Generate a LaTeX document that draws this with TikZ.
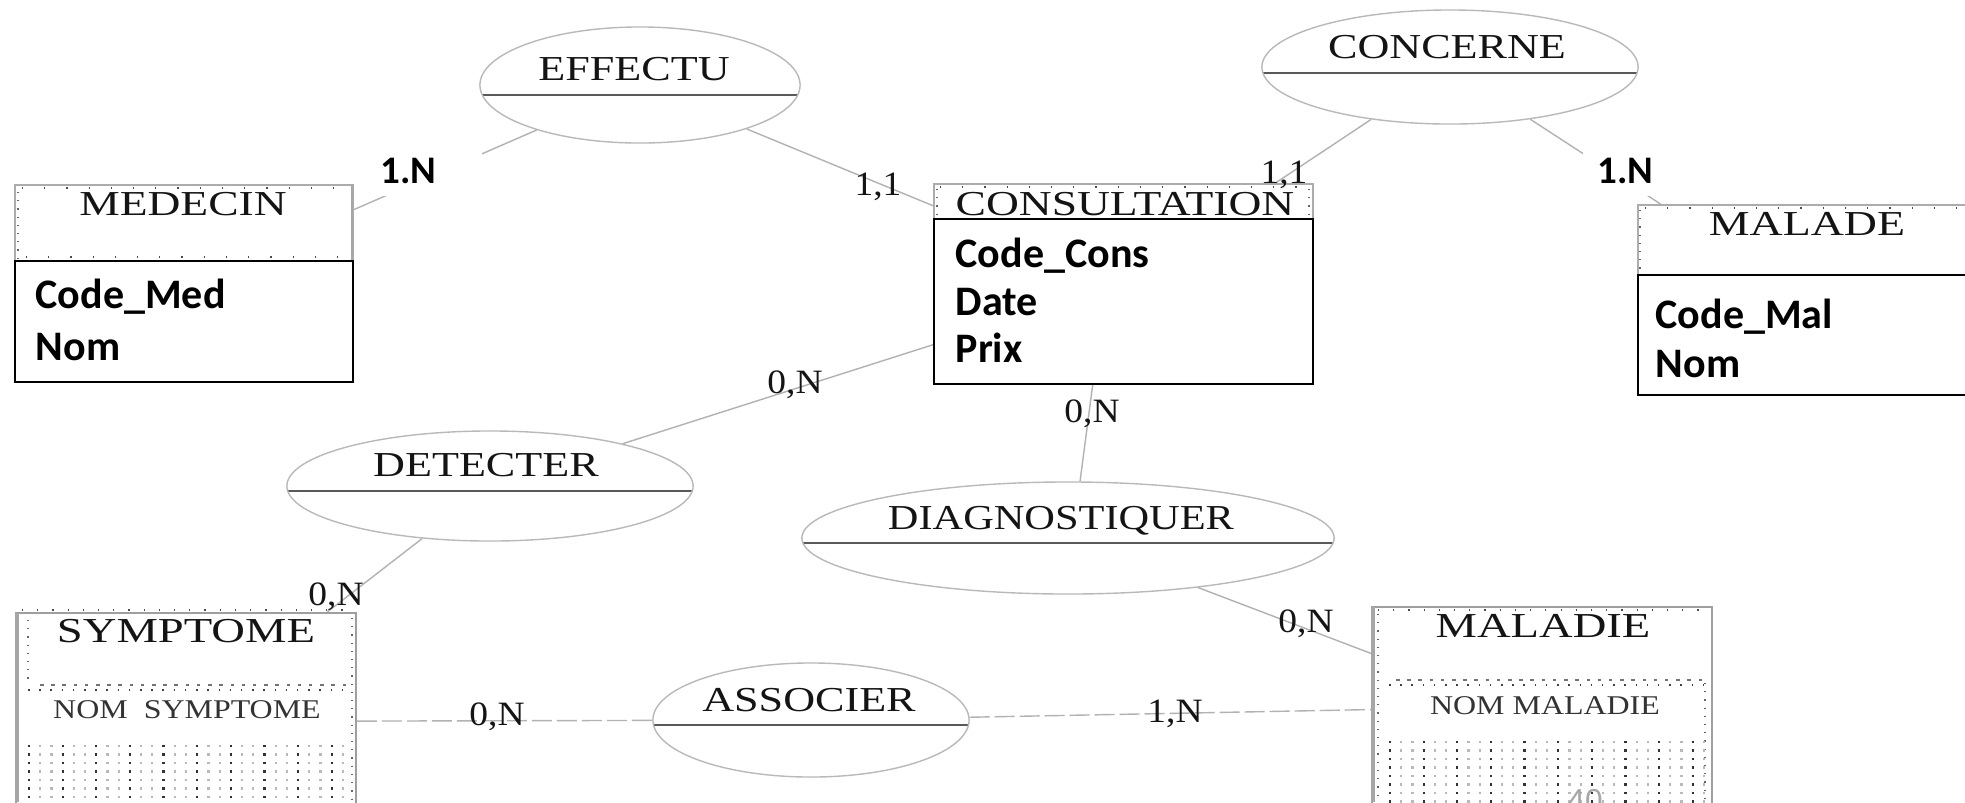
\documentclass[tikz,border=0pt]{standalone}
\usepackage{fontspec}
\usepackage{graphicx}
\setmainfont{Liberation Serif}
\newfontfamily\attrfont{Carlito}
\newfontfamily\pagefont{Liberation Sans}
\usetikzlibrary{shapes.geometric}
\newcommand{\stretchx}[2]{\scalebox{#1}[1]{#2}}

\tikzset{
  ename/.style={font=\fontsize{9.96}{12}\selectfont, text=black!92, inner sep=0pt, anchor=base},
  card/.style={font=\fontsize{9.7}{11}\selectfont, text=black!92, inner sep=0pt, anchor=base},
  attrname/.style={font=\fontsize{7.7}{9}\selectfont, text=black!80, inner sep=0pt, anchor=base},
  attr/.style={font=\attrfont\bfseries\fontsize{11.95}{14}\selectfont, inner sep=0pt, anchor=base west},
  bigcard/.style={font=\attrfont\bfseries\fontsize{11.1}{13}\selectfont, fill=white, anchor=west,
    inner ysep=0pt, minimum height=0.5cm, align=left},
  entbox/.style={rectangle, draw=none, inner sep=0pt},
  relation/.style={ellipse, draw=gray!55, line width=0.4pt, inner sep=0pt,
    path picture={\draw[draw=black!65, line width=0.8pt]
      ([yshift=-#1]path picture bounding box.west) -- ([yshift=-#1]path picture bounding box.east);}},
  link/.style={draw=gray!60, line width=0.4pt},
  alink/.style={link, dash pattern=on 0.2cm off 0.05cm},
  frame/.style={draw=gray!65, line width=0.45pt},
  ticks/.style={draw=black!70, line width=0.7pt, dash pattern=on 0.012cm off 0.21cm},
  fticks/.style={draw=black!70, line width=0.7pt, dash pattern=on 0.012cm off 0.14cm},
  vticks/.style={draw=black!60, line width=0.7pt, dash pattern=on 0.012cm off 0.07cm},
  dashrow/.style={draw=black!55, line width=0.6pt, dash pattern=on 0.035cm off 0.077cm},
  dotrow/.style={draw=black!75, line width=0.7pt, dash pattern=on 0.015cm off 0.097cm},
  body/.style={draw=black, line width=0.6pt},
  thickframe/.style={draw=gray!75, line width=0.8pt},
  gridrow/.style={draw=gray!55, line width=0.75pt, dash pattern=on 0.022cm off 0.09cm},
  gridrowb/.style={draw=black!80, line width=0.75pt, dash pattern=on 0.022cm off 0.314cm},
}

\begin{document}
\begin{tikzpicture}[x=0.01cm, y=-0.01cm]
\useasboundingbox (0,0) rectangle (1965,802);
\fill[white] (0,0) rectangle (1965,802);
\clip (0,0) rectangle (1965,802);

% ---------- entity boxes (anchors for the links) ----------
\node[entbox, minimum width=3.38cm, minimum height=1.97cm] (med) at (184,283.5) {};
\node[entbox, minimum width=3.79cm, minimum height=2.00cm] (cons) at (1123.5,284) {};
\node[entbox, minimum width=3.40cm, minimum height=1.90cm] (mal) at (1808,300) {};
\node[entbox, minimum width=3.40cm, minimum height=2.17cm] (symp) at (186,721.5) {};
\node[entbox, minimum width=3.40cm, minimum height=2.23cm] (mald) at (1542,718.5) {};

% ---------- relations ----------
\node[relation=0.10cm, minimum width=3.20cm, minimum height=1.16cm] (eff) at (640,85) {};
\node[relation=0.06cm, minimum width=3.76cm, minimum height=1.14cm] (conc) at (1450,67) {};
\node[relation=0.05cm, minimum width=4.06cm, minimum height=1.10cm] (det) at (490,486) {};
\node[relation=0.05cm, minimum width=5.32cm, minimum height=1.12cm] (diag) at (1068,538) {};
\node[relation=0.05cm, minimum width=3.16cm, minimum height=1.14cm] (assoc) at (811,720) {};

\node[ename] (effT)   at (634,80.6)  {\stretchx{1.26}{EFFECTU}};
\node[ename] (concT)  at (1447,58.6) {\stretchx{1.26}{CONCERNE}};
\node[ename] (detT)   at (486,476)   {\stretchx{1.26}{DETECTER}};
\node[ename] (diagT)  at (1061,529.6){\stretchx{1.21}{DIAGNOSTIQUER}};
\node[ename] (assocT) at (809,711.6) {\stretchx{1.26}{ASSOCIER}};

% ---------- links ----------
\draw[link] (eff) -- (med);
\draw[link] (eff) -- (cons);
\draw[link] (conc) -- (cons);
\draw[link] (conc) -- (mal);
\draw[link] (cons) -- (det);
\draw[link] (cons.253) -- (diag.78);
\draw[link] (diag) -- (mald);
\draw[link] (det) -- (symp);
\draw[alink] (symp) -- (assoc);
\draw[alink] (assoc.1) -- (mald.177);

% ---------- MEDECIN ----------
\draw[frame] (15,185) rectangle (353,261);
\draw[ticks] (22,188) -- (350,188);
\draw[vticks] (18,192) -- (18,258);
\draw[ticks] (26,257) -- (350,257);
\draw[draw=gray!70, line width=0.7pt] (352,185) -- (352,261);
\draw[body] (15,261) rectangle (353,382);
\node[ename] (medT) at (183,215) {\stretchx{1.30}{MEDECIN}};
\node[attr] (medA1) at (35,308) {Code\_Med};
\node[attr] (medA2) at (35,360) {Nom};

% ---------- CONSULTATION ----------
\draw[frame] (934,184) rectangle (1313,219);
\draw[ticks] (940,187) -- (1310,187);
\draw[vticks] (937,189) -- (937,217);
\draw[vticks] (1309,189) -- (1309,217);
\draw[body] (934,219) rectangle (1313,384);
\node[ename] (consT) at (1125,215) {\stretchx{1.30}{CONSULTATION}};
\node[attr] (consA1) at (955,267) {Code\_Cons};
\node[attr] (consA2) at (955,315) {Date};
\node[attr] (consA3) at (955,362) {Prix};

% ---------- MALADE ----------
\draw[frame] (1638,205) rectangle (1990,275);
\draw[ticks] (1645,208) -- (1965,208);
\draw[vticks] (1640,210) -- (1640,273);
\draw[body] (1638,275) rectangle (1990,395);
\node[ename] (malT) at (1807,235) {\stretchx{1.31}{MALADE}};
\node[attr] (malA1) at (1655,328) {Code\_Mal};
\node[attr] (malA2) at (1655,377) {Nom};

% ---------- SYMPTOME ----------
\draw[thickframe] (16,613) rectangle (356,830);
\draw[draw=gray!70, line width=0.9pt] (17,613) -- (17,802);
\draw[fticks] (22,610) -- (352,610);
\draw[vticks] (28,620) -- (28,680);
\draw[dashrow] (40,685) -- (352,685);
\draw[dotrow] (28,690) -- (352,690);
\draw[vticks] (352,618) -- (352,802);
\foreach \yy in {746,754.5,...,802} {
  \draw[gridrow] (28,\yy) -- (352,\yy);
  \draw[gridrowb] (28,\yy) -- (352,\yy);
}
\node[ename] (sympT) at (186,642) {\stretchx{1.33}{SYMPTOME}};
\node[attrname] (sympA) at (187,718) {\stretchx{1.18}{NOM\ \ SYMPTOME}};

% ---------- MALADIE ----------
\draw[thickframe] (1372,607) rectangle (1712,830);
\draw[draw=gray!70, line width=0.9pt] (1373,607) -- (1373,802);
\draw[fticks] (1378,610) -- (1708,610);
\draw[vticks] (1378,614) -- (1378,802);
\draw[dashrow] (1396,680) -- (1706,680);
\draw[dotrow] (1389,685) -- (1706,685);
\draw[vticks] (1705,683) -- (1705,802);
\foreach \yy in {742,750.5,...,802} {
  \draw[gridrow] (1389,\yy) -- (1706,\yy);
  \draw[gridrowb] (1389,\yy) -- (1706,\yy);
}
\node[ename] (maldT) at (1543,637) {\stretchx{1.33}{MALADIE}};
\node[attrname] (maldA) at (1545,714) {\stretchx{1.18}{NOM MALADIE}};
\node[anchor=north, font=\pagefont\fontsize{9}{10}\selectfont, text=gray!70, inner sep=0pt] (pg) at (1585,789) {40};

% ---------- cardinalities ----------
\node[card] (c1) at (878,195)  {\stretchx{1.1}{1,1}};
\node[card] (c2) at (1284,183) {\stretchx{1.1}{1,1}};
\node[card] (c3) at (795,393)  {\stretchx{1.1}{0,N}};
\node[card] (c4) at (1092,422) {\stretchx{1.1}{0,N}};
\node[card] (c5) at (1306,632) {\stretchx{1.1}{0,N}};
\node[card] (c6) at (336,605)  {\stretchx{1.1}{0,N}};
\node[card] (c7) at (497,725)  {\stretchx{1.1}{0,N}};
\node[card] (c8) at (1175,722) {\stretchx{1.1}{1,N}};

\node[bigcard, text width=0.95cm, inner xsep=0.06cm] (k1) at (374,171) {1.N};
\node[bigcard, text width=0.62cm, inner xsep=0.15cm] (k2) at (1582,171) {1.N};
\end{tikzpicture}
\end{document}
